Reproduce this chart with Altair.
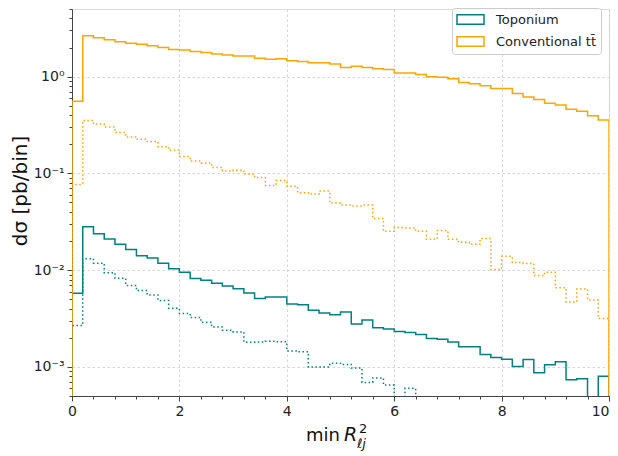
import altair as alt
import pandas as pd

# ---------------- data (bin width 0.2, 50 bins from 0 to 10) ----------------
bin_edges = [round(0.2 * i, 1) for i in range(51)]

topo_solid = [0.00577, 0.0280, 0.0238, 0.0210, 0.0185, 0.01636, 0.01409, 0.01336, 0.0118, 0.01033,
              0.00948, 0.00818, 0.00787, 0.00733, 0.00684, 0.00643, 0.00581, 0.00509, 0.00529, 0.00529,
              0.00446, 0.00439, 0.00385, 0.00361, 0.00345, 0.00370, 0.00278, 0.00305, 0.00253, 0.00247,
              0.00232, 0.00227, 0.00216, 0.00197, 0.00193, 0.00181, 0.00161, 0.00161, 0.00134, 0.00125,
              0.00120, 0.00101, 0.00119, 0.00087, 0.00105, 0.00113, 0.000735, 0.000752, 0.0, 0.0008]

topo_dotted = [0.00267, 0.01314, 0.0118, 0.00941, 0.00824, 0.00695, 0.00614, 0.00554, 0.00486, 0.00404,
               0.00356, 0.00324, 0.00289, 0.00259, 0.00239, 0.00230, 0.00180, 0.00181, 0.00184, 0.00182,
               0.00146, 0.00143, 0.00100, 0.00100, 0.00109, 0.00106, 0.000972, 0.000690, 0.000769, 0.000648,
               0.0, 0.000600, 0.0, 0.0, 0.0, 0.0, 0.0, 0.0, 0.0, 0.0,
               0.0, 0.0, 0.0, 0.0, 0.0, 0.0, 0.0, 0.0, 0.0, 0.0]

conv_solid = [0.558, 2.645, 2.52, 2.41, 2.30, 2.21, 2.16, 2.09, 2.00, 1.91,
              1.89, 1.82, 1.78, 1.71, 1.67, 1.63, 1.63, 1.55, 1.51, 1.53,
              1.46, 1.43, 1.39, 1.39, 1.35, 1.24, 1.28, 1.24, 1.205, 1.185,
              1.09, 1.09, 1.05, 1.00, 0.984, 0.948, 0.869, 0.843, 0.805, 0.756,
              0.756, 0.668, 0.617, 0.581, 0.532, 0.508, 0.460, 0.439, 0.393, 0.356]

conv_dotted = [0.0769, 0.352, 0.324, 0.302, 0.264, 0.237, 0.225, 0.214, 0.189, 0.174,
               0.149, 0.134, 0.128, 0.115, 0.106, 0.108, 0.0986, 0.0905, 0.075, 0.0843,
               0.0738, 0.0632, 0.0612, 0.0658, 0.0493, 0.0471, 0.0460, 0.0471, 0.0342, 0.0252,
               0.0275, 0.0273, 0.0252, 0.0208, 0.0257, 0.0208, 0.0194, 0.0185, 0.0212, 0.01016,
               0.0139, 0.0120, 0.0117, 0.00878, 0.00948, 0.00659, 0.00468, 0.00637, 0.00490, 0.00317]

samples = ["Toponium", "Conventional t\u0074\u0304"]
colors = ["#008080", "#FFA500"]
x_major = [0, 2, 4, 6, 8, 10]
x_minor = [round(0.4 * i, 1) for i in range(26)]
y_major = [0.001, 0.01, 0.1, 1]
y_minor = [m * 10.0 ** e for e in range(-4, 1) for m in range(2, 10) if 5e-4 <= m * 10.0 ** e <= 5]

FLOOR = 1e-6  # empty bins: drawn below the visible range (log scale)

rows = []


def add(series, sample, kind):
    pts = [(0.0, 0.0)] + [(bin_edges[i], v) for i, v in enumerate(series)] + [(10.0, series[-1]), (10.0, 0.0)]
    for k, (xv, v) in enumerate(pts):
        rows.append(dict(x=xv, y=v if v > 0 else FLOOR, sample=sample, kind=kind, order=k, key=sample + kind))


add(topo_solid, samples[0], "solid")
add(conv_solid, samples[1], "solid")
add(topo_dotted, samples[0], "dotted")
add(conv_dotted, samples[1], "dotted")
df = pd.DataFrame(rows)

W, H = 537, 387
FONT = "DejaVu Sans"

xscale = alt.Scale(domain=[0, 10], nice=False, zero=False)
yscale = alt.Scale(type="log", domain=[5e-4, 5], nice=False)

lines = alt.Chart(df).mark_line(interpolate="step-after", strokeWidth=1.5, clip=True).encode(
    x=alt.X("x:Q", scale=xscale,
            axis=alt.Axis(values=x_major, format="d", title=None, grid=True, gridDash=[2.5, 2.5],
                          gridColor="#cccccc", gridWidth=0.8, tickSize=5, tickColor="#444",
                          domainColor="#444", labelFontSize=14, labelFont=FONT, labelColor="#222",
                          labelPadding=3, orient="bottom", labelFlush=False,
                          labelAlign=alt.condition("datum.value == 10", alt.value("right"), alt.value("center")))),
    y=alt.Y("y:Q", scale=yscale,
            axis=alt.Axis(values=y_major, title="d\u03c3 [pb/bin]", grid=True, gridDash=[2.5, 2.5],
                          gridColor="#cccccc", gridWidth=0.8, tickSize=5, tickColor="#444",
                          domainColor="#444", labelFontSize=14, labelFont=FONT, labelColor="#222",
                          labelPadding=3, orient="left",
                          labelExpr="datum.value > 0.5 ? '10\u2070' : datum.value > 0.05 ? '10\u207b\u00b9' : datum.value > 0.005 ? '10\u207b\u00b2' : '10\u207b\u00b3'",
                          titleFontSize=20, titleFont=FONT, titleFontWeight="normal", titleColor="#111",
                          titleX=-52, titleY=H / 2 - 12, titleAlign="center", titleBaseline="middle")),
    color=alt.Color("sample:N", scale=alt.Scale(domain=samples, range=colors),
                    legend=alt.Legend(title=None, orient="none", legendX=380, legendY=-1,
                                      symbolType="M-2,-0.7H2V0.7H-2Z", symbolSize=182,
                                      symbolOffset=7, symbolStrokeWidth=1.5, symbolFillColor="transparent",
                                      labelFontSize=13, labelFont=FONT, labelColor="#222",
                                      labelOffset=18, rowPadding=5, padding=4,
                                      fillColor="rgba(255,255,255,0.85)", strokeColor="#cccccc",
                                      cornerRadius=3)),
    strokeDash=alt.StrokeDash("kind:N", scale=alt.Scale(domain=["solid", "dotted"], range=[[1, 0], [1.5, 2.5]]),
                              legend=None),
    detail="key:N",
    order="order:Q",
)

minor = alt.Chart(df).mark_point(opacity=0).encode(
    x=alt.X("x:Q", scale=xscale,
            axis=alt.Axis(values=x_minor, labels=False, title=None, grid=False, tickSize=3,
                          tickColor="#444", domain=False, orient="bottom")),
    y=alt.Y("y:Q", scale=yscale,
            axis=alt.Axis(values=y_minor, labels=False, title=None, grid=False, tickSize=3,
                          tickColor="#444", domain=False, orient="left")),
)

one = pd.DataFrame({"a": [0]})
t_min = alt.Chart(one).mark_text(text="min", font=FONT, fontSize=18, align="left", baseline="alphabetic",
                                 color="#111").encode(x=alt.value(234), y=alt.value(H + 45))
t_R = alt.Chart(one).mark_text(text="R", font=FONT, fontSize=19, fontStyle="italic", align="left",
                               baseline="alphabetic", color="#111").encode(x=alt.value(272), y=alt.value(H + 45))
t_sup = alt.Chart(one).mark_text(text="2", font=FONT, fontSize=13, align="left", baseline="alphabetic",
                                 color="#111").encode(x=alt.value(287), y=alt.value(H + 37))
t_sub = alt.Chart(one).mark_text(text="\u2113j", font=FONT, fontSize=13, fontStyle="italic", align="left",
                                 baseline="alphabetic", color="#111").encode(x=alt.value(285), y=alt.value(H + 52))

chart = alt.layer(lines, minor, t_min, t_R, t_sup, t_sub).resolve_axis(
    x="independent", y="independent"
).properties(
    width=W, height=H, autosize=alt.AutoSizeParams(type="none"),
    padding={"left": 64, "top": 1, "right": 1, "bottom": 60},
).configure_view(stroke="#444", strokeWidth=1).configure(background="white")

chart.save("out.html", embed_options={"renderer": "svg", "actions": False})
